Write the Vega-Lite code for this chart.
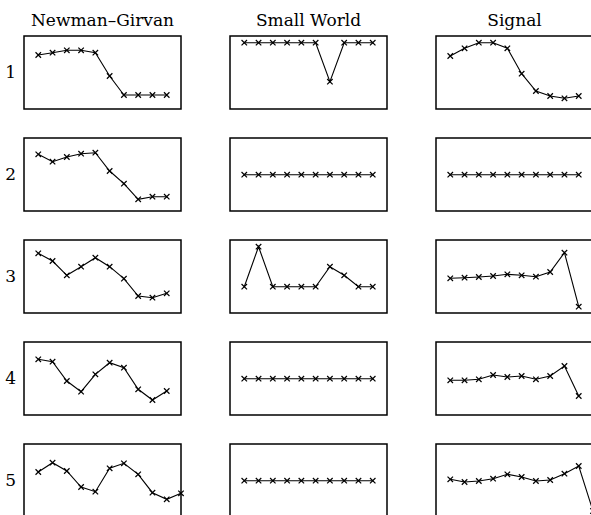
{
  "$schema": "https://vega.github.io/schema/vega-lite/v6.json",
  "padding": {"left": 5, "top": 12, "right": 5, "bottom": 5},
  "bounds": "flush",
  "data": {"values": [
    {"method":"Newman–Girvan","run":1,"i":1,"v":54},{"method":"Newman–Girvan","run":1,"i":2,"v":56.3},{"method":"Newman–Girvan","run":1,"i":3,"v":58.7},{"method":"Newman–Girvan","run":1,"i":4,"v":58.7},{"method":"Newman–Girvan","run":1,"i":5,"v":56.3},{"method":"Newman–Girvan","run":1,"i":6,"v":33},{"method":"Newman–Girvan","run":1,"i":7,"v":14},{"method":"Newman–Girvan","run":1,"i":8,"v":14},{"method":"Newman–Girvan","run":1,"i":9,"v":14},{"method":"Newman–Girvan","run":1,"i":10,"v":14},
    {"method":"Newman–Girvan","run":2,"i":1,"v":56.7},{"method":"Newman–Girvan","run":2,"i":2,"v":49.3},{"method":"Newman–Girvan","run":2,"i":3,"v":54},{"method":"Newman–Girvan","run":2,"i":4,"v":57.3},{"method":"Newman–Girvan","run":2,"i":5,"v":58.3},{"method":"Newman–Girvan","run":2,"i":6,"v":40},{"method":"Newman–Girvan","run":2,"i":7,"v":27.3},{"method":"Newman–Girvan","run":2,"i":8,"v":11.7},{"method":"Newman–Girvan","run":2,"i":9,"v":14.3},{"method":"Newman–Girvan","run":2,"i":10,"v":14.3},
    {"method":"Newman–Girvan","run":3,"i":1,"v":59.7},{"method":"Newman–Girvan","run":3,"i":2,"v":52},{"method":"Newman–Girvan","run":3,"i":3,"v":37.7},{"method":"Newman–Girvan","run":3,"i":4,"v":46.3},{"method":"Newman–Girvan","run":3,"i":5,"v":55.3},{"method":"Newman–Girvan","run":3,"i":6,"v":46.3},{"method":"Newman–Girvan","run":3,"i":7,"v":34.3},{"method":"Newman–Girvan","run":3,"i":8,"v":17},{"method":"Newman–Girvan","run":3,"i":9,"v":15.3},{"method":"Newman–Girvan","run":3,"i":10,"v":19.7},
    {"method":"Newman–Girvan","run":4,"i":1,"v":55.7},{"method":"Newman–Girvan","run":4,"i":2,"v":53.3},{"method":"Newman–Girvan","run":4,"i":3,"v":34},{"method":"Newman–Girvan","run":4,"i":4,"v":23.3},{"method":"Newman–Girvan","run":4,"i":5,"v":40.7},{"method":"Newman–Girvan","run":4,"i":6,"v":52.3},{"method":"Newman–Girvan","run":4,"i":7,"v":47.3},{"method":"Newman–Girvan","run":4,"i":8,"v":25.7},{"method":"Newman–Girvan","run":4,"i":9,"v":15},{"method":"Newman–Girvan","run":4,"i":10,"v":24},
    {"method":"Newman–Girvan","run":5,"i":1,"v":45},{"method":"Newman–Girvan","run":5,"i":2,"v":54.3},{"method":"Newman–Girvan","run":5,"i":3,"v":46},{"method":"Newman–Girvan","run":5,"i":4,"v":30},{"method":"Newman–Girvan","run":5,"i":5,"v":25.3},{"method":"Newman–Girvan","run":5,"i":6,"v":48.7},{"method":"Newman–Girvan","run":5,"i":7,"v":53.7},{"method":"Newman–Girvan","run":5,"i":8,"v":42.7},{"method":"Newman–Girvan","run":5,"i":9,"v":24.3},{"method":"Newman–Girvan","run":5,"i":10,"v":17.7},{"method":"Newman–Girvan","run":5,"i":11,"v":23.7},
    {"method":"Small World","run":1,"i":1,"v":66.3},{"method":"Small World","run":1,"i":2,"v":66.3},{"method":"Small World","run":1,"i":3,"v":66.3},{"method":"Small World","run":1,"i":4,"v":66.3},{"method":"Small World","run":1,"i":5,"v":66.3},{"method":"Small World","run":1,"i":6,"v":66.3},{"method":"Small World","run":1,"i":7,"v":27.3},{"method":"Small World","run":1,"i":8,"v":66.3},{"method":"Small World","run":1,"i":9,"v":66.3},{"method":"Small World","run":1,"i":10,"v":66.3},
    {"method":"Small World","run":2,"i":1,"v":36.3},{"method":"Small World","run":2,"i":2,"v":36.3},{"method":"Small World","run":2,"i":3,"v":36.3},{"method":"Small World","run":2,"i":4,"v":36.3},{"method":"Small World","run":2,"i":5,"v":36.3},{"method":"Small World","run":2,"i":6,"v":36.3},{"method":"Small World","run":2,"i":7,"v":36.3},{"method":"Small World","run":2,"i":8,"v":36.3},{"method":"Small World","run":2,"i":9,"v":36.3},{"method":"Small World","run":2,"i":10,"v":36.3},
    {"method":"Small World","run":3,"i":1,"v":26.3},{"method":"Small World","run":3,"i":2,"v":66.3},{"method":"Small World","run":3,"i":3,"v":26.3},{"method":"Small World","run":3,"i":4,"v":26.3},{"method":"Small World","run":3,"i":5,"v":26.3},{"method":"Small World","run":3,"i":6,"v":26.3},{"method":"Small World","run":3,"i":7,"v":46.3},{"method":"Small World","run":3,"i":8,"v":37.7},{"method":"Small World","run":3,"i":9,"v":26.3},{"method":"Small World","run":3,"i":10,"v":26.3},
    {"method":"Small World","run":4,"i":1,"v":36.3},{"method":"Small World","run":4,"i":2,"v":36.3},{"method":"Small World","run":4,"i":3,"v":36.3},{"method":"Small World","run":4,"i":4,"v":36.3},{"method":"Small World","run":4,"i":5,"v":36.3},{"method":"Small World","run":4,"i":6,"v":36.3},{"method":"Small World","run":4,"i":7,"v":36.3},{"method":"Small World","run":4,"i":8,"v":36.3},{"method":"Small World","run":4,"i":9,"v":36.3},{"method":"Small World","run":4,"i":10,"v":36.3},
    {"method":"Small World","run":5,"i":1,"v":36.3},{"method":"Small World","run":5,"i":2,"v":36.3},{"method":"Small World","run":5,"i":3,"v":36.3},{"method":"Small World","run":5,"i":4,"v":36.3},{"method":"Small World","run":5,"i":5,"v":36.3},{"method":"Small World","run":5,"i":6,"v":36.3},{"method":"Small World","run":5,"i":7,"v":36.3},{"method":"Small World","run":5,"i":8,"v":36.3},{"method":"Small World","run":5,"i":9,"v":36.3},{"method":"Small World","run":5,"i":10,"v":36.3},
    {"method":"Signal","run":1,"i":1,"v":53},{"method":"Signal","run":1,"i":2,"v":60.7},{"method":"Signal","run":1,"i":3,"v":66.3},{"method":"Signal","run":1,"i":4,"v":66.3},{"method":"Signal","run":1,"i":5,"v":60.7},{"method":"Signal","run":1,"i":6,"v":35.3},{"method":"Signal","run":1,"i":7,"v":18},{"method":"Signal","run":1,"i":8,"v":13},{"method":"Signal","run":1,"i":9,"v":10.7},{"method":"Signal","run":1,"i":10,"v":13},
    {"method":"Signal","run":2,"i":1,"v":36.3},{"method":"Signal","run":2,"i":2,"v":36.3},{"method":"Signal","run":2,"i":3,"v":36.3},{"method":"Signal","run":2,"i":4,"v":36.3},{"method":"Signal","run":2,"i":5,"v":36.3},{"method":"Signal","run":2,"i":6,"v":36.3},{"method":"Signal","run":2,"i":7,"v":36.3},{"method":"Signal","run":2,"i":8,"v":36.3},{"method":"Signal","run":2,"i":9,"v":36.3},{"method":"Signal","run":2,"i":10,"v":36.3},
    {"method":"Signal","run":3,"i":1,"v":34.7},{"method":"Signal","run":3,"i":2,"v":35.3},{"method":"Signal","run":3,"i":3,"v":36},{"method":"Signal","run":3,"i":4,"v":37},{"method":"Signal","run":3,"i":5,"v":38.7},{"method":"Signal","run":3,"i":6,"v":37.7},{"method":"Signal","run":3,"i":7,"v":36.3},{"method":"Signal","run":3,"i":8,"v":41},{"method":"Signal","run":3,"i":9,"v":60.3},{"method":"Signal","run":3,"i":10,"v":6.3},
    {"method":"Signal","run":4,"i":1,"v":34.7},{"method":"Signal","run":4,"i":2,"v":34.7},{"method":"Signal","run":4,"i":3,"v":35.7},{"method":"Signal","run":4,"i":4,"v":40},{"method":"Signal","run":4,"i":5,"v":38},{"method":"Signal","run":4,"i":6,"v":39},{"method":"Signal","run":4,"i":7,"v":35.7},{"method":"Signal","run":4,"i":8,"v":39},{"method":"Signal","run":4,"i":9,"v":49},{"method":"Signal","run":4,"i":10,"v":19},
    {"method":"Signal","run":5,"i":1,"v":37.7},{"method":"Signal","run":5,"i":2,"v":35},{"method":"Signal","run":5,"i":3,"v":36},{"method":"Signal","run":5,"i":4,"v":38.3},{"method":"Signal","run":5,"i":5,"v":42.7},{"method":"Signal","run":5,"i":6,"v":40},{"method":"Signal","run":5,"i":7,"v":36},{"method":"Signal","run":5,"i":8,"v":37},{"method":"Signal","run":5,"i":9,"v":43.3},{"method":"Signal","run":5,"i":10,"v":51},{"method":"Signal","run":5,"i":11,"v":6}
  ]},
  "facet": {
    "row": {"field": "run", "type": "ordinal", "header": {"title": null, "labelAngle": 0, "labelOrient": "left", "labelAlign": "right", "labelBaseline": "middle", "labelFontSize": 17, "labelFont": "DejaVu Serif", "labelColor": "black", "labelPadding": -3}},
    "column": {"field": "method", "type": "nominal", "sort": ["Newman–Girvan", "Small World", "Signal"], "header": {"title": null, "labelFontSize": 17, "labelFont": "DejaVu Serif", "labelColor": "black", "labelPadding": 6}}
  },
  "spacing": {"row": 29, "column": 49},
  "spec": {
    "width": 157,
    "height": 73,
    "layer": [
      {
        "mark": {"type": "line", "color": "black", "strokeWidth": 1.1},
        "encoding": {
          "x": {"field": "i", "type": "quantitative", "scale": {"domain": [0, 11], "nice": false, "zero": false}, "axis": null},
          "y": {"field": "v", "type": "quantitative", "scale": {"domain": [0, 73], "nice": false}, "axis": null}
        }
      },
      {
        "mark": {"type": "point", "shape": "M-1,-1L1,1M-1,1L1,-1", "filled": false, "color": "black", "size": 30, "strokeWidth": 1.2, "opacity": 1},
        "encoding": {
          "x": {"field": "i", "type": "quantitative", "scale": {"domain": [0, 11], "nice": false, "zero": false}, "axis": null},
          "y": {"field": "v", "type": "quantitative", "scale": {"domain": [0, 73], "nice": false}, "axis": null}
        }
      }
    ]
  },
  "config": {"view": {"stroke": "black", "strokeWidth": 1.5}, "font": "DejaVu Serif"}
}
